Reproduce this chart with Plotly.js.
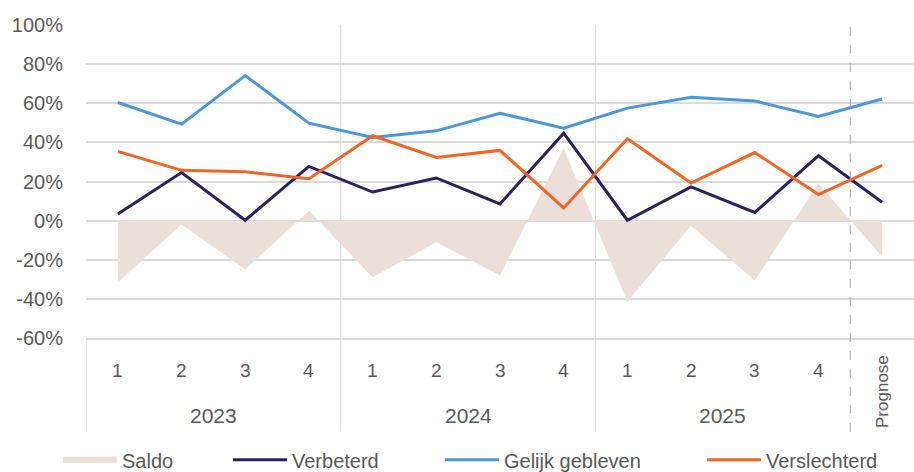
<!DOCTYPE html>
<html>
<head>
<meta charset="utf-8">
<script src="https://cdn.plot.ly/plotly-3.0.1.min.js"></script>
<style>
html,body{margin:0;padding:0;background:#fff;}
#chart{width:914px;height:472px;}
</style>
</head>
<body>
<div id="chart"></div>
<script>
// Categories (quarter per year + forecast)
const categories = ['2023-1','2023-2','2023-3','2023-4','2024-1','2024-2','2024-3','2024-4','2025-1','2025-2','2025-3','2025-4','Prognose'];
const quarterLabels = ['1','2','3','4','1','2','3','4','1','2','3','4'];
const yearLabels = ['2023','2024','2025'];
const forecastLabel = 'Prognose';

// Series values (%)
const saldo        = [-31.5, -2, -25, 5, -29, -11, -28, 37, -41.5, -2.6, -30.6, 19, -18.5];
const verbeterd    = [3.4, 24.6, 0.2, 27.7, 14.6, 21.8, 8.5, 44.7, 0.2, 17.2, 4.2, 33.2, 9.4];
const gelijk       = [60.4, 49.3, 74.1, 49.8, 42.5, 45.9, 54.9, 47.3, 57.5, 63.1, 61.2, 53.2, 62.2];
const verslechterd = [35.4, 25.7, 25.0, 21.4, 43.4, 32.3, 35.9, 6.5, 41.8, 19.2, 34.8, 13.3, 28.2];

const yTicks = [-60,-40,-20,0,20,40,60,80,100];
const yTickText = ['-60%','-40%','-20%','0%','20%','40%','60%','80%','100%'];

const FONT = 'Liberation Sans, Arial, sans-serif';
const TXT = '#595959';
const GRID = '#d9d9d9';

const traces = [
  {x: categories, y: saldo, name: 'Saldo', type: 'scatter', mode: 'none', fill: 'tozeroy',
   fillcolor: '#ebe0d9', legend: 'legend'},
  {x: categories, y: verbeterd, name: 'Verbeterd', type: 'scatter', mode: 'lines',
   line: {color: '#2e1f5e', width: 3}, legend: 'legend2'},
  {x: categories, y: gelijk, name: 'Gelijk gebleven', type: 'scatter', mode: 'lines',
   line: {color: '#4a97dc', width: 3}, legend: 'legend3'},
  {x: categories, y: verslechterd, name: 'Verslechterd', type: 'scatter', mode: 'lines',
   line: {color: '#f26522', width: 3}, legend: 'legend4'}
];

// Boundaries between category groups (in category index units)
const groupEdges = [3.5, 7.5];
const forecastEdge = 11.5;
const bottomY = -0.30;

const shapes = [];
groupEdges.forEach(e => shapes.push({type:'line', xref:'x', yref:'paper', x0:e, x1:e, y0:bottomY, y1:1,
  line:{color:GRID, width:1}, layer:'below'}));
shapes.push({type:'line', xref:'x', yref:'paper', x0:forecastEdge, x1:forecastEdge, y0:bottomY, y1:1,
  line:{color:'#a6a6a6', width:1, dash:'dash'}, layer:'above'});
shapes.push({type:'line', xref:'x', yref:'paper', x0:-0.5, x1:-0.5, y0:bottomY, y1:0,
  line:{color:GRID, width:1}});

const annotations = [];
quarterLabels.forEach((q,i) => annotations.push({x: categories[i], xref:'x', y:-0.105, yref:'paper',
  xanchor:'center', yanchor:'middle',
  text:q, showarrow:false, font:{family:FONT, size:19, color:TXT}}));
yearLabels.forEach((yl,k) => annotations.push({x: 4*k+1.5, xref:'x', y:-0.249, yref:'paper',
  xanchor:'center', yanchor:'middle',
  text:yl, showarrow:false, font:{family:FONT, size:21, color:TXT}}));
annotations.push({x: categories[12], xref:'x', y:-0.172, yref:'paper', text:forecastLabel, textangle:-90,
  xanchor:'center', yanchor:'middle', xshift:1,
  showarrow:false, font:{family:FONT, size:17, color:TXT}});

const legBase = {orientation:'h', xref:'container', yref:'container', yanchor:'middle', y:0.026,
  bgcolor:'rgba(0,0,0,0)', font:{family:FONT, size:20, color:TXT}, itemwidth:54, itemclick:false};

const layout = {
  width: 914, height: 472,
  margin: {l:86, r:0, t:25, b:134},
  paper_bgcolor:'#fff', plot_bgcolor:'#fff',
  showlegend: true,
  legend:  Object.assign({}, legBase, {x: 58/914}),
  legend2: Object.assign({}, legBase, {x: 228/914}),
  legend3: Object.assign({}, legBase, {x: 440/914}),
  legend4: Object.assign({}, legBase, {x: 702/914}),
  xaxis: {type:'category', categoryorder:'array', categoryarray: categories, range:[-0.5, 12.5],
    showticklabels:false, showgrid:false, zeroline:false, ticks:'',
    showline:true, linecolor:GRID, linewidth:2, fixedrange:true},
  yaxis: {range:[-60,100], tickvals:yTicks, ticktext:yTickText, showgrid:true, gridcolor:GRID, gridwidth:2,
    zeroline:true, zerolinecolor:GRID, zerolinewidth:2, showline:false, ticks:'', ticklabelstandoff:22,
    tickfont:{family:FONT, size:20, color:TXT}, fixedrange:true},
  shapes: shapes,
  annotations: annotations
};

Plotly.newPlot('chart', traces, layout, {displayModeBar:false, staticPlot:true});
</script>
</body>
</html>
